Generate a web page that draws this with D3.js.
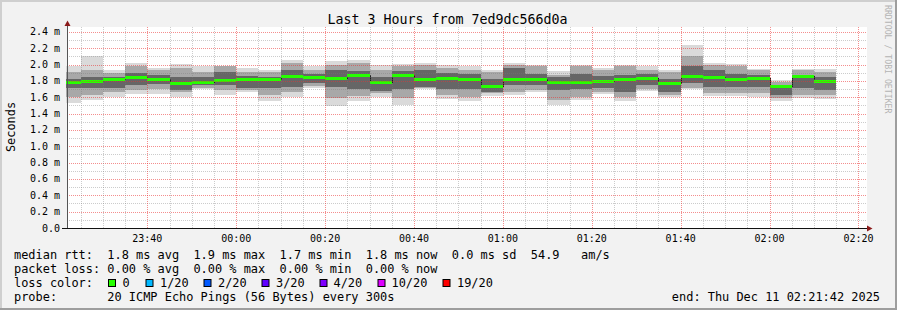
<!DOCTYPE html>
<html><head><meta charset="utf-8">
<script src="https://cdn.jsdelivr.net/npm/d3@7"></script>
<style>
body{margin:0;background:#f2f2f2}
svg{display:block}
text{font-family:"DejaVu Sans Mono",monospace;white-space:pre}
</style>
</head><body>
<svg id="c" width="897" height="310"></svg>
<script>
// ---- data ----
const stepEnds = ["23:25","23:30","23:35","23:40","23:45","23:50","23:55","00:00","00:05","00:10",
  "00:15","00:20","00:25","00:30","00:35","00:40","00:45","00:50","00:55","01:00",
  "01:05","01:10","01:15","01:20","01:25","01:30","01:35","01:40","01:45","01:50",
  "01:55","02:00","02:05","02:10","02:15"];
const pingMin   = [1.53,1.57,1.60,1.64,1.64,1.61,1.70,1.63,1.67,1.56,1.60,1.71,1.49,1.55,1.60,1.51,1.70,1.58,1.55,1.62,1.63,1.66,1.51,1.57,1.64,1.56,1.68,1.60,1.70,1.62,1.62,1.61,1.55,1.59,1.58];
const pingMax   = [1.98,2.11,1.93,2.02,1.96,2.01,1.98,1.98,1.96,1.93,2.06,1.98,2.05,2.06,2.00,2.01,2.02,2.00,1.98,1.93,2.02,2.00,1.92,2.00,1.96,2.00,1.98,1.94,2.24,2.02,2.01,1.95,1.81,1.95,1.95];
const midLow    = [1.61,1.63,1.67,1.69,1.70,1.66,1.72,1.69,1.69,1.63,1.67,1.74,1.59,1.62,1.65,1.59,1.72,1.63,1.60,1.65,1.67,1.69,1.57,1.61,1.67,1.61,1.70,1.63,1.72,1.65,1.65,1.65,1.59,1.63,1.63];
const midHigh   = [1.91,1.93,1.90,1.98,1.93,1.96,1.91,1.98,1.91,1.91,2.02,1.93,2.00,2.02,1.94,1.98,2.00,1.96,1.94,1.91,2.00,1.98,1.87,1.98,1.94,1.98,1.94,1.91,2.10,2.00,1.98,1.93,1.79,1.93,1.91];
const innerLow  = [1.71,1.71,1.72,1.75,1.76,1.69,1.75,1.75,1.72,1.72,1.73,1.78,1.73,1.70,1.68,1.70,1.73,1.70,1.70,1.67,1.75,1.75,1.69,1.70,1.72,1.67,1.75,1.67,1.78,1.73,1.73,1.73,1.63,1.71,1.69];
const innerHigh = [1.83,1.85,1.85,1.90,1.87,1.85,1.85,1.91,1.86,1.85,1.94,1.88,1.94,1.92,1.85,1.92,1.94,1.90,1.88,1.83,1.96,1.89,1.85,1.89,1.86,1.87,1.89,1.83,1.98,1.94,1.89,1.87,1.75,1.87,1.85];
const median    = [1.79,1.80,1.82,1.85,1.83,1.78,1.79,1.81,1.83,1.83,1.86,1.85,1.84,1.87,1.79,1.87,1.83,1.84,1.82,1.74,1.82,1.83,1.79,1.79,1.80,1.82,1.84,1.77,1.86,1.85,1.83,1.84,1.74,1.86,1.80];
const yTickValues = [0,0.2,0.4,0.6,0.8,1.0,1.2,1.4,1.6,1.8,2.0,2.2,2.4];
const yTickLabels = ["0.0","0.2 m","0.4 m","0.6 m","0.8 m","1.0 m","1.2 m","1.4 m","1.6 m","1.8 m","2.0 m","2.2 m","2.4 m"];
const xTickLabels = ["23:40","00:00","00:20","00:40","01:00","01:20","01:40","02:00","02:20"];
const lossLabels = ["0","1/20","2/20","3/20","4/20","10/20","19/20"];
const lossColors = ["#26ff00","#00b8ff","#0059ff","#5e00ff","#7e00ff","#dd00ff","#ff0000"];
const titleText = "Last 3 Hours from 7ed9dc566d0a";
const legendLines = [
  "median rtt:  1.8 ms avg  1.9 ms max  1.7 ms min  1.8 ms now  0.0 ms sd  54.9   am/s",
  "packet loss: 0.00 % avg  0.00 % max  0.00 % min  0.00 % now",
  "loss color:",
  "probe:       20 ICMP Echo Pings (56 Bytes) every 300s"
];
const endText = "end: Thu Dec 11 02:21:42 2025";

// ---- helpers ----
const toDate = s => { const [h,m] = s.split(":").map(Number); return h >= 12 ? new Date(2025,11,10,h,m,0) : new Date(2025,11,11,h,m,0); };
const tStart = new Date(2025,11,10,23,21,42), tEnd = new Date(2025,11,11,2,21,42);

const svg = d3.select("#c");
const W = 897, H = 310;
const x = d3.scaleTime().domain([tStart, tEnd]).range([66, 866]);
const y = d3.scaleLinear().domain([0, 2.4612]).range([228, 27]);

// background & frame
svg.append("rect").attr("width",W).attr("height",H).attr("fill","#f2f2f2");
svg.append("rect").attr("x",0).attr("y",0).attr("width",W).attr("height",2).attr("fill","#cfcfcf");
svg.append("rect").attr("x",0).attr("y",0).attr("width",2).attr("height",H).attr("fill","#cfcfcf");
svg.append("rect").attr("x",0).attr("y",H-2).attr("width",W).attr("height",2).attr("fill","#9e9e9e");
svg.append("rect").attr("x",W-2).attr("y",0).attr("width",2).attr("height",H).attr("fill","#9e9e9e");

// canvas
svg.append("rect").attr("x",67).attr("y",27).attr("width",800).attr("height",201).attr("fill","#ffffff");

// steps
const steps = stepEnds.map((s,i) => {
  const e = toDate(s);
  const b = new Date(+e - 300000);
  return {x0: x(b < tStart ? tStart : b), x1: x(e), i};
});
const gS = svg.append("g").attr("shape-rendering","crispEdges");
const layers = [[pingMin,pingMax,"#dadada"],[midLow,midHigh,"#a8a8a8"],[innerLow,innerHigh,"#666666"]];
layers.forEach(([lo,hi,col]) => {
  gS.selectAll(null).data(steps).enter().append("rect")
    .attr("x", d => Math.round(d.x0)).attr("width", d => Math.round(d.x1) - Math.round(d.x0))
    .attr("y", d => Math.round(y(hi[d.i]))).attr("height", d => Math.round(y(lo[d.i])) - Math.round(y(hi[d.i])))
    .attr("fill", col);
});
// median dark step line
let pth = "";
steps.forEach((d,k) => {
  const yy = Math.round(y(median[d.i])) + 0.5;
  pth += (k ? "L" : "M") + Math.round(d.x0) + "," + yy + "L" + Math.round(d.x1) + "," + yy;
});
svg.append("path").attr("d", pth).attr("fill","none").attr("stroke","#202020").attr("stroke-width",1).attr("shape-rendering","crispEdges");
// green median band (loss 0)
const gM = svg.append("g").attr("shape-rendering","crispEdges");
gM.selectAll(null).data(steps).enter().append("rect")
  .attr("x", d => Math.round(d.x0)).attr("width", d => Math.round(d.x1) - Math.round(d.x0))
  .attr("y", d => Math.round(y(median[d.i])) - 1).attr("height", 3)
  .attr("fill", lossColors[0]);

// grid on top
const gG = svg.append("g").attr("shape-rendering","crispEdges").attr("stroke-dasharray","1,1");
d3.range(1, 25).forEach(k => {
  const v = k / 10;
  const major = k % 2 === 0;
  const yy = Math.round(y(v)) + 0.5;
  gG.append("line").attr("x1",67).attr("x2",867).attr("y1",yy).attr("y2",yy)
    .attr("stroke", major ? "rgba(235,50,50,0.55)" : "rgba(120,120,120,0.38)");
});
d3.timeMinute.every(5).range(tStart, tEnd).forEach(t => {
  const major = t.getMinutes() % 20 === 0;
  const xx = Math.round(x(t)) + 0.5;
  gG.append("line").attr("x1",xx).attr("x2",xx).attr("y1",27).attr("y2",228)
    .attr("stroke", major ? "rgba(235,50,50,0.55)" : "rgba(120,120,120,0.38)");
});

// axes
svg.append("line").attr("x1",67.5).attr("x2",67.5).attr("y1",24).attr("y2",228).attr("stroke","#555").attr("shape-rendering","crispEdges");
svg.append("line").attr("x1",62).attr("x2",868).attr("y1",228.5).attr("y2",228.5).attr("stroke","#111").attr("shape-rendering","crispEdges");
svg.append("path").attr("d","M64.5,26L67.5,20.5L70.5,26Z").attr("fill","#8b1a1a");
svg.append("path").attr("d","M867,225.5L872.5,228.5L867,231.5Z").attr("fill","#8b1a1a");

// y tick labels
svg.append("g").selectAll("text").data(yTickValues).enter().append("text")
  .attr("x", 60).attr("y", d => y(d)).attr("dy","0.35em").attr("text-anchor","end")
  .attr("font-size","10px").attr("fill","#000").text((d,i) => yTickLabels[i]);
// x tick labels
svg.append("g").selectAll("text").data(xTickLabels).enter().append("text")
  .attr("x", d => x(toDate(d))).attr("y", 241.5).attr("text-anchor","middle")
  .attr("font-size","10px").attr("fill","#000").text(d => d);

// title
svg.append("text").attr("x",447.5).attr("y",24).attr("text-anchor","middle").attr("font-size","13.3px").attr("fill","#000").text(titleText);
// y label
svg.append("text").attr("transform","translate(15,127) rotate(-90)").attr("text-anchor","middle").attr("font-size","11.9px").attr("fill","#000").text("Seconds");
// watermark
svg.append("text").attr("transform","translate(885,5) rotate(90)").attr("font-size","8.2px").attr("fill","#b4b4b4").text("RRDTOOL / TOBI OETIKER");

// legend
const lg = svg.append("g").attr("font-size","11.93px").attr("fill","#000");
legendLines.forEach((t,i) => {
  lg.append("text").attr("x",14).attr("y",258.5 + i*14).text(t);
});
const boxX = [108, 145.5, 203.5, 261.5, 319.5, 377.5, 442.5];
const labX = [122.5, 160, 218, 276, 333.5, 391.5, 457];
lossLabels.forEach((l,i) => {
  svg.append("rect").attr("x",boxX[i]+0.5).attr("y",279.5).attr("width",7).attr("height",7)
    .attr("fill",lossColors[i]).attr("stroke","#000").attr("stroke-width",1);
  lg.append("text").attr("x",labX[i]).attr("y",286.5).text(l);
});
lg.append("text").attr("x",880).attr("y",300.5).attr("text-anchor","end").text(endText);
</script>
</body></html>
